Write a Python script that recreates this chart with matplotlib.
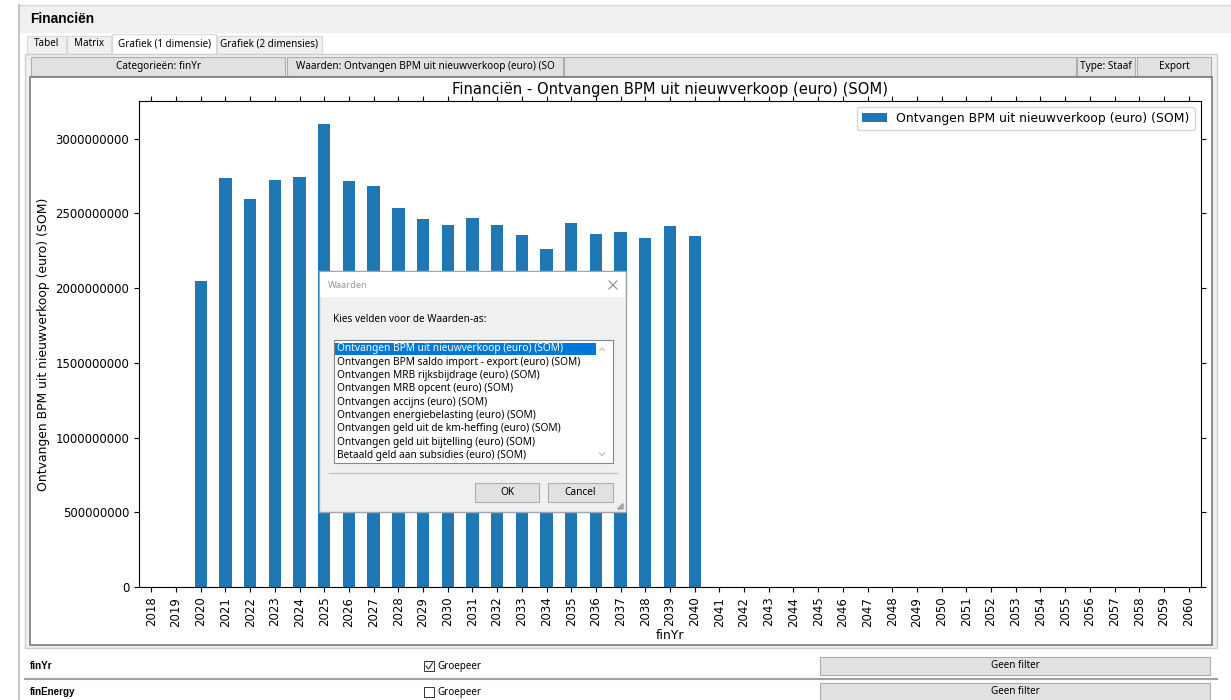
import matplotlib
matplotlib.use("Agg")

import matplotlib.pyplot as plt
from matplotlib.patches import Rectangle
from matplotlib.ticker import MultipleLocator, FuncFormatter

# data
years = list(range(2018, 2061))
bpm_years = list(range(2020, 2041))
bpm_values = [2.051e9, 2.735e9, 2.594e9, 2.723e9, 2.741e9, 3.098e9, 2.719e9,
              2.681e9, 2.538e9, 2.466e9, 2.426e9, 2.473e9, 2.426e9, 2.355e9,
              2.259e9, 2.433e9, 2.361e9, 2.379e9, 2.339e9, 2.415e9, 2.350e9]
series_name = "Ontvangen BPM uit nieuwverkoop (euro) (SOM)"

tabs = ["Tabel", "Matrix", "Grafiek (1 dimensie)", "Grafiek (2 dimensies)"]
value_fields = [
    "Ontvangen BPM uit nieuwverkoop (euro) (SOM)",
    "Ontvangen BPM saldo import - export (euro) (SOM)",
    "Ontvangen MRB rijksbijdrage (euro) (SOM)",
    "Ontvangen MRB opcent (euro) (SOM)",
    "Ontvangen accijns (euro) (SOM)",
    "Ontvangen energiebelasting (euro) (SOM)",
    "Ontvangen geld uit de km-heffing (euro) (SOM)",
    "Ontvangen geld uit bijtelling (euro) (SOM)",
    "Betaald geld aan subsidies (euro) (SOM)",
]
dimensions = ["finYr", "finEnergy"]
grouped = [True, False]

lookup = dict(zip(bpm_years, bpm_values))
values = [lookup.get(y, 0.0) for y in years]

UI_FONT = ["Noto Sans", "DejaVu Sans"]
BOLD_FONT = ["Liberation Sans", "DejaVu Sans"]
W, H = 1231, 700

fig = plt.figure(figsize=(W / 100, H / 100), dpi=100)
fig.patch.set_facecolor("white")


def px_axes(name, z):
    a = fig.add_axes([0, 0, 1, 1], label=name, zorder=z)
    a.set_xlim(0, W)
    a.set_ylim(H, 0)
    a.axis("off")
    a.patch.set_alpha(0)
    return a


def rect(a, x0, y0, x1, y1, fc, ec="none", lw=1.0, z=1):
    a.add_patch(Rectangle((x0, y0), x1 - x0, y1 - y0, facecolor=fc,
                          edgecolor=ec, linewidth=lw, zorder=z))


def label(a, x, y, s, size=7.1, ha="left", color="black", bold=False, z=3):
    a.text(x, y, s, fontsize=size, ha=ha, va="center", color=color,
           fontweight="bold" if bold else "normal",
           family=BOLD_FONT if bold else UI_FONT, zorder=z)


# ---------- window chrome ----------
ui = px_axes("ui", 0)
rect(ui, 18, 5, W, 33, "#f0f0f0")
ui.plot([18, W], [5, 5], color="#d6d6d6", lw=1)
ui.plot([19, 19], [5, H], color="#c8c8c8", lw=1.5)
label(ui, 30, 19, "Financiën", size=9.9, bold=True)

# tabs
tab_x = [(27, 66), (67, 111), (112, 216), (217, 322)]
for (x0, x1), name in zip(tab_x, tabs):
    sel = name == tabs[2]
    rect(ui, x0, 34 if sel else 36, x1, 54, "white" if sel else "#f0f0f0",
         ec="#d9d9d9", lw=0.8)
    label(ui, (x0 + x1) / 2, 44, name, size=7.1, ha="center")

# panel frame
rect(ui, 25, 54, 1217, 648, "#f0f0f0", ec="#d0d0d0", lw=1)
buttons = [(31, 285, "Categorieën: " + dimensions[0]),
           (287, 563, "Waarden: " + series_name[:41]),
           (564, 1076, ""),
           (1077, 1135, "Type: Staaf"),
           (1137, 1211, "Export")]
for x0, x1, txt in buttons:
    rect(ui, x0, 57, x1, 76, "#e1e1e1", ec="#adadad", lw=0.8)
    if txt:
        label(ui, (x0 + x1) / 2, 67, txt, size=7.2, ha="center")
rect(ui, 30, 77, 1212, 645, "white", ec="#7a7a7a", lw=1.2)

# dimension rows at the bottom
for i, (dim, g) in enumerate(zip(dimensions, grouped)):
    yc = 666 + i * 26
    if i:
        ui.plot([25, 1217], [yc - 13, yc - 13], color="#a0a0a0", lw=1.5)
    label(ui, 30, yc, dim, size=7.1, bold=True)
    rect(ui, 424, yc - 5, 434, yc + 5, "white", ec="#333333", lw=0.7, z=2)
    if g:
        ui.plot([426, 428.5, 432.5], [yc, yc + 3, yc - 3], color="#333333", lw=0.8, zorder=3)
    label(ui, 437, yc, "Groepeer", size=7.1)
    rect(ui, 820, yc - 9, 1210, yc + 9, "#e1e1e1", ec="#adadad", lw=0.8)
    label(ui, 1015, yc, "Geen filter", size=7.1, ha="center")

# ---------- the chart ----------
ax = fig.add_axes([139 / W, 113 / H, 1062 / W, 486 / H], zorder=2)
pos = list(range(len(years)))
ax.bar(pos, values, width=0.5, color="#1f77b4", label=series_name)
ax.set_xlim(-0.5, len(years) - 0.5)
ax.set_xticks(pos)
ax.set_xticklabels([str(y) for y in years], rotation=90, fontsize=8.5)
ax.yaxis.set_major_locator(MultipleLocator(5e8))
ax.yaxis.set_major_formatter(FuncFormatter(lambda v, p: f"{v:.0f}"))
ax.tick_params(axis="y", labelsize=8.5)
ax.tick_params(top=True, right=True, direction="out")
ax.set_xlabel("finYr", fontsize=8.9, labelpad=2)
ax.set_ylabel(series_name, fontsize=8.9)
ax.set_title("Financiën - " + series_name, fontsize=10.6, pad=5)
ax.legend(loc="upper right", fontsize=8.9)

# ---------- the "Waarden" dialog ----------
dl = px_axes("dialog", 5)
rect(dl, 319, 271, 626, 512, "#f0f0f0", ec="#9aa6b2", lw=1)
rect(dl, 320, 272, 625, 297, "white")
label(dl, 328, 285, "Waarden", size=6.8, color="#9a9a9a")
dl.plot([609, 617], [281, 289], color="#8a8a8a", lw=0.8)
dl.plot([609, 617], [289, 281], color="#8a8a8a", lw=0.8)
label(dl, 333, 320, "Kies velden voor de Waarden-as:", size=7.2)
rect(dl, 334, 340, 613, 463, "white", ec="#828790", lw=0.8)
for i, name in enumerate(value_fields):
    yc = 349 + i * 13.3
    if i == 0:
        rect(dl, 335, yc - 6.3, 596, yc + 6.3, "#0078d7", z=2)
    label(dl, 337, yc, name, size=7.3, color="white" if i == 0 else "black")
dl.plot([599.5, 602, 604.5], [350.5, 348, 350.5], color="#c0c0c0", lw=0.8)
dl.plot([599.5, 602, 604.5], [453, 455.5, 453], color="#c0c0c0", lw=0.8)
dl.plot([329, 617], [472.5, 472.5], color="#c8c8c8", lw=1)
for x0, x1, txt in [(475, 539, "OK"), (548, 613, "Cancel")]:
    rect(dl, x0, 483, x1, 502, "#e1e1e1", ec="#adadad", lw=0.8)
    label(dl, (x0 + x1) / 2, 492.5, txt, size=7.3, ha="center")
for gx, gy in [(622, 504), (620, 506), (622, 506), (618, 508), (620, 508), (622, 508)]:
    dl.plot(gx, gy, marker="s", ms=0.8, color="#a0a0a0")

fig.savefig("out.png", dpi=100)
